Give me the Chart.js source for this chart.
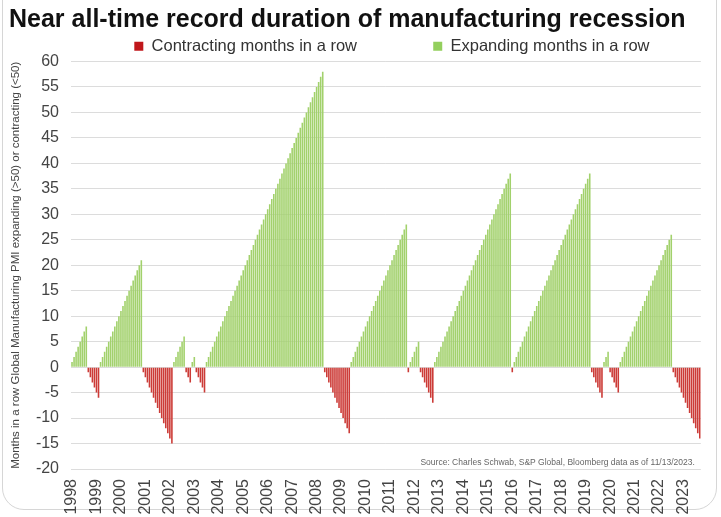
<!DOCTYPE html>
<html>
<head>
<meta charset="utf-8">
<script src="https://cdn.jsdelivr.net/npm/chart.js@4"></script>
<style>
  html, body { margin: 0; padding: 0; background: #fff; }
  .frame {
    position: absolute; left: 2px; top: -30px; width: 715px; height: 540px;
    border: 1px solid #d6d6d6; border-radius: 22px; box-sizing: border-box;
  }
  .chart-area { position: absolute; left: 0; top: 0; width: 721px; height: 517px; }
</style>
</head>
<body>
<div class="frame"></div>
<div class="chart-area">
  <canvas id="chart" width="721" height="517"></canvas>
</div>
<script>
// Months in a row, one value per month starting January 1998
// positive = PMI expanding (>50), negative = contracting (<50)
const monthsInRow = [
  1, 2, 3, 4, 5, 6, 7, 8,
  -1, -2, -3, -4, -5, -6,
  1, 2, 3, 4, 5, 6, 7, 8, 9, 10, 11, 12, 13, 14, 15, 16, 17, 18, 19, 20, 21,
  -1, -2, -3, -4, -5, -6, -7, -8, -9, -10, -11, -12, -13, -14, -15,
  1, 2, 3, 4, 5, 6,
  -1, -2, -3,
  1, 2,
  -1, -2, -3, -4, -5,
  1, 2, 3, 4, 5, 6, 7, 8, 9, 10, 11, 12, 13, 14, 15, 16, 17, 18, 19, 20,
  21, 22, 23, 24, 25, 26, 27, 28, 29, 30, 31, 32, 33, 34, 35, 36, 37, 38, 39, 40,
  41, 42, 43, 44, 45, 46, 47, 48, 49, 50, 51, 52, 53, 54, 55, 56, 57, 58,
  -1, -2, -3, -4, -5, -6, -7, -8, -9, -10, -11, -12, -13,
  1, 2, 3, 4, 5, 6, 7, 8, 9, 10, 11, 12, 13, 14, 15, 16, 17, 18, 19, 20,
  21, 22, 23, 24, 25, 26, 27, 28,
  -1,
  1, 2, 3, 4, 5,
  -1, -2, -3, -4, -5, -6, -7,
  1, 2, 3, 4, 5, 6, 7, 8, 9, 10, 11, 12, 13, 14, 15, 16, 17, 18, 19, 20,
  21, 22, 23, 24, 25, 26, 27, 28, 29, 30, 31, 32, 33, 34, 35, 36, 37, 38,
  -1,
  1, 2, 3, 4, 5, 6, 7, 8, 9, 10, 11, 12, 13, 14, 15, 16, 17, 18, 19, 20,
  21, 22, 23, 24, 25, 26, 27, 28, 29, 30, 31, 32, 33, 34, 35, 36, 37, 38,
  -1, -2, -3, -4, -5, -6,
  1, 2, 3,
  -1, -2, -3, -4, -5,
  1, 2, 3, 4, 5, 6, 7, 8, 9, 10, 11, 12, 13, 14, 15, 16, 17, 18, 19, 20,
  21, 22, 23, 24, 25, 26,
  -1, -2, -3, -4, -5, -6, -7, -8, -9, -10, -11, -12, -13, -14
];

const years = [
  1998, 1999, 2000, 2001, 2002, 2003, 2004, 2005, 2006, 2007, 2008, 2009, 2010,
  2011, 2012, 2013, 2014, 2015, 2016, 2017, 2018, 2019, 2020, 2021, 2022, 2023
];

const yTicks = [60, 55, 50, 45, 40, 35, 30, 25, 20, 15, 10, 5, 0, -5, -10, -15, -20];

const seriesNames = ['Contracting months in a row', 'Expanding months in a row'];
const seriesColors = ['#cc3b37', '#a2d16c'];
const legendColors = ['#c0171b', '#93cf5d'];

const titleText = 'Near all-time record duration of manufacturing recession';
const yTitle = 'Months in a row Global Manufacturing PMI expanding (>50) or contracting (<50)';
const sourceText = 'Source: Charles Schwab, S&P Global, Bloomberg data as of 11/13/2023.';

// one category per month
const months = monthsInRow.map((v, i) => years[Math.floor(i / 12)] + '-' + String(i % 12 + 1).padStart(2, '0'));
const contracting = monthsInRow.map(v => (v < 0 ? v : null));
const expanding = monthsInRow.map(v => (v > 0 ? v : null));

const sans = "'Liberation Sans', Arial, sans-serif";

// the legend in the original sits centred over the plot and a little lower
const legendShift = {
  id: 'legendShift',
  afterLayout(chart) {
    const lg = chart.legend;
    if (!lg) return;
    const dx = (chart.chartArea.left + chart.chartArea.right) / 2 - (lg.left + lg.right) / 2 + 6;
    lg.left += dx;
    lg.right += dx;
    lg.top += 3;
    lg.bottom += 3;
  }
};

const sourcePlugin = {
  id: 'sourceNote',
  afterDraw(chart) {
    const { ctx, chartArea } = chart;
    ctx.save();
    ctx.font = '8.5px ' + sans;
    ctx.fillStyle = '#666';
    ctx.textAlign = 'right';
    ctx.textBaseline = 'bottom';
    ctx.fillText(sourceText, chartArea.right - 6, chartArea.bottom - 2);
    ctx.restore();
  }
};

const ctx = document.getElementById('chart').getContext('2d');
new Chart(ctx, {
  type: 'bar',
  data: {
    labels: months,
    datasets: [
      { label: seriesNames[0], data: contracting, backgroundColor: seriesColors[0] },
      { label: seriesNames[1], data: expanding, backgroundColor: seriesColors[1] }
    ]
  },
  options: {
    responsive: false,
    animation: false,
    layout: { padding: { left: 9, right: 0, top: 0, bottom: 0 } },
    datasets: {
      bar: { grouped: false, barPercentage: 0.78, categoryPercentage: 1.0 }
    },
    plugins: {
      title: {
        display: true,
        text: titleText,
        align: 'start',
        color: '#111',
        font: { family: sans, size: 25, weight: 'bold', lineHeight: 1.0 },
        padding: { top: 8, bottom: 0 }
      },
      legend: {
        display: true,
        position: 'top',
        labels: {
          color: '#333',
          boxWidth: 9,
          boxHeight: 9,
          padding: 2,
          font: { family: sans, size: 16.5 },
          generateLabels(chart) {
            return chart.data.datasets.map((ds, i) => ({
              text: i === 0 ? ds.label + '\u2003\u2003\u2003\u2003\u2002' : ds.label,
              fillStyle: legendColors[i],
              strokeStyle: legendColors[i],
              lineWidth: 0,
              datasetIndex: i,
              fontColor: '#333'
            }));
          }
        }
      },
      tooltip: { enabled: false }
    },
    scales: {
      x: {
        grid: { display: false },
        border: { display: false },
        ticks: {
          autoSkip: false,
          minRotation: 90,
          maxRotation: 90,
          padding: 2,
          color: '#444',
          font: { family: sans, size: 16 },
          callback(value, index) {
            return index % 12 === 0 ? String(years[index / 12]) : '';
          }
        },
        afterFit(axis) { axis.height = 48; }
      },
      y: {
        min: yTicks[yTicks.length - 1],
        max: yTicks[0],
        grid: { color: '#dcdcdc', lineWidth: 1, drawTicks: false },
        border: { display: false },
        ticks: {
          stepSize: 5,
          padding: 12,
          color: '#444',
          font: { family: sans, size: 16 }
        },
        title: {
          display: true,
          text: yTitle,
          color: '#444',
          padding: { top: 0, bottom: 0 },
          font: { family: sans, size: 11.5 }
        },
        afterFit(axis) { axis.width = 62; }
      }
    }
  },
  plugins: [legendShift, sourcePlugin]
});
</script>
</body>
</html>
